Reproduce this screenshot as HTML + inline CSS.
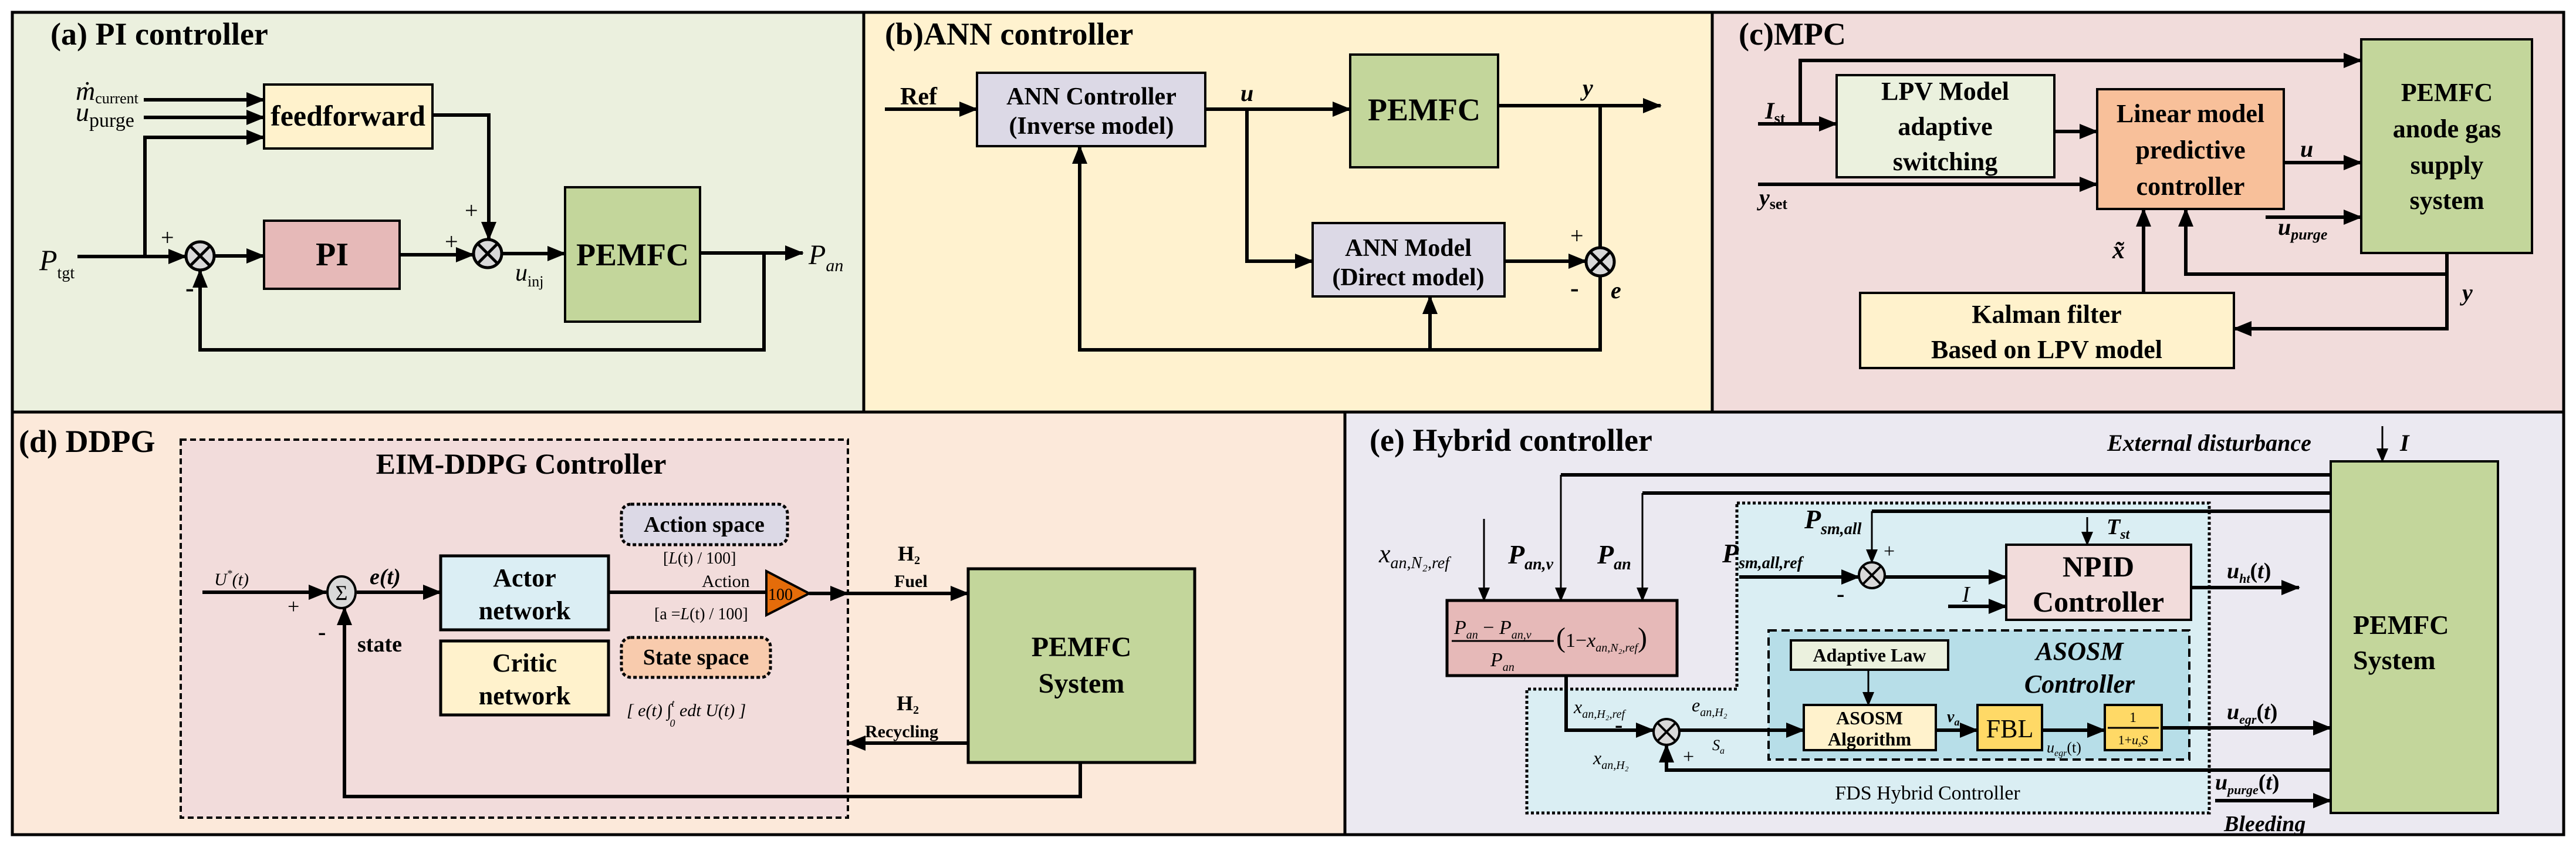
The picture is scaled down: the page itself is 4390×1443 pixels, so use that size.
<!DOCTYPE html>
<html><head><meta charset="utf-8"><style>
html,body{margin:0;padding:0;background:#fff;}
svg{display:block;}
text{font-family:"Liberation Serif",serif;fill:#000;}
.b{font-weight:bold;}
.i{font-style:italic;}
.m{text-anchor:middle;}
</style></head><body>
<svg width="4390" height="1443" viewBox="0 0 4390 1443" xmlns="http://www.w3.org/2000/svg">
<defs>
<marker id="a" markerWidth="32" markerHeight="26" refX="30" refY="13" orient="auto" markerUnits="userSpaceOnUse"><path d="M0,0 L32,13 L0,26 z" fill="#000"/></marker>
<marker id="s" markerWidth="24" markerHeight="30" refX="22" refY="10" orient="auto" markerUnits="userSpaceOnUse"><path d="M0,0 L24,10 L0,20 z" fill="#000"/></marker>
</defs>
<rect x="0" y="0" width="4390" height="1443" fill="#fff"/>
<rect x="21" y="21" width="1451" height="681" fill="#ebf0de"/>
<rect x="1472" y="21" width="1446" height="681" fill="#fff2cf"/>
<rect x="2918" y="21" width="1451" height="681" fill="#f1dcdb"/>
<rect x="21" y="702" width="2271" height="720" fill="#fce9da"/>
<rect x="2292" y="702" width="2077" height="720" fill="#ebe9f1"/>
<g stroke="#000" stroke-width="5" fill="none">
<rect x="21" y="21" width="4348" height="1401"/>
<line x1="21" y1="702" x2="4369" y2="702"/>
<line x1="1472" y1="21" x2="1472" y2="702"/>
<line x1="2918" y1="21" x2="2918" y2="702"/>
<line x1="2292" y1="702" x2="2292" y2="1422"/>
</g>

<!-- (a) -->
<text x="86" y="76" class="b" font-size="54">(a) PI controller</text>
<g stroke="#000" stroke-width="4">
<rect x="450" y="144" width="287" height="109" fill="#fff2cc"/>
<rect x="450" y="376" width="231" height="116" fill="#e6b9b8"/>
<rect x="963" y="319" width="230" height="229" fill="#c3d69b"/>
</g>
<text x="593" y="214" class="b m" font-size="50">feedforward</text>
<text x="566" y="452" class="b m" font-size="56">PI</text>
<text x="1078" y="452" class="b m" font-size="54">PEMFC</text>
<g stroke="#000" stroke-width="6" fill="none">
<path d="M132,437 H317" marker-end="url(#a)"/>
<path d="M365,436 H450" marker-end="url(#a)"/>
<path d="M681,434 H807" marker-end="url(#a)"/>
<path d="M855,432 H963" marker-end="url(#a)"/>
<path d="M737,196 H833 V408" marker-end="url(#a)"/>
<path d="M245,170 H450" marker-end="url(#a)"/>
<path d="M245,200 H450" marker-end="url(#a)"/>
<path d="M247,437 V234 H450" marker-end="url(#a)"/>
<path d="M1193,431 H1368" marker-end="url(#a)"/>
<path d="M1302,431 V596 H341 V460" marker-end="url(#a)"/>
</g>
<g stroke="#000" stroke-width="5" fill="#d9d9d9">
<circle cx="341" cy="436" r="24"/><circle cx="831" cy="432" r="24"/>
</g>
<g stroke="#000" stroke-width="5">
<path d="M324,419 L358,453 M358,419 L324,453"/>
<path d="M814,415 L848,449 M848,415 L814,449"/>
</g>
<text x="129" y="170" class="i" font-size="46">ṁ<tspan font-size="26" font-style="normal" dy="6">current</tspan></text>
<text x="129" y="206" class="i" font-size="46">u<tspan font-size="34" font-style="normal" dy="10">purge</tspan></text>
<text x="67" y="460" class="i" font-size="50">P<tspan font-size="28" font-style="normal" dy="14">tgt</tspan></text>
<text x="274" y="418" font-size="40">+</text>
<text x="316" y="505" class="b" font-size="44">-</text>
<text x="792" y="372" font-size="40">+</text>
<text x="758" y="425" font-size="40">+</text>
<text x="878" y="478" class="i" font-size="42">u<tspan font-size="26" font-style="normal" dy="10">inj</tspan></text>
<text x="1378" y="450" class="i" font-size="48">P<tspan font-size="30" dy="12">an</tspan></text>

<!-- (b) -->
<text x="1508" y="76" class="b" font-size="54">(b)ANN controller</text>
<g stroke="#000" stroke-width="4">
<rect x="1665" y="124" width="389" height="125" fill="#dcd9e6"/>
<rect x="2301" y="93" width="252" height="192" fill="#c3d69b"/>
<rect x="2237" y="380" width="327" height="125" fill="#dcd9e6"/>
</g>
<text x="1860" y="178" class="b m" font-size="42">ANN Controller</text>
<text x="1860" y="228" class="b m" font-size="42">(Inverse model)</text>
<text x="2427" y="205" class="b m" font-size="54">PEMFC</text>
<text x="2400" y="436" class="b m" font-size="42">ANN Model</text>
<text x="2400" y="486" class="b m" font-size="42">(Direct model)</text>
<g stroke="#000" stroke-width="6" fill="none">
<path d="M1508,186 H1665" marker-end="url(#a)"/>
<path d="M2054,186 H2301" marker-end="url(#a)"/>
<path d="M2125,186 V445 H2237" marker-end="url(#a)"/>
<path d="M2553,180 H2830" marker-end="url(#a)"/>
<path d="M2727,180 V422"/>
<path d="M2564,445 H2703" marker-end="url(#a)"/>
<path d="M2727,470 V596 H1840 V249" marker-end="url(#a)"/>
<path d="M2437,596 V505" marker-end="url(#a)"/>
</g>
<circle cx="2727" cy="446" r="24" fill="#d9d9d9" stroke="#000" stroke-width="5"/>
<path d="M2710,429 L2744,463 M2744,429 L2710,463" stroke="#000" stroke-width="5"/>
<text x="1534" y="178" class="b" font-size="42">Ref</text>
<text x="2114" y="172" class="i b" font-size="40">u</text>
<text x="2697" y="163" class="i b" font-size="40">y</text>
<text x="2676" y="415" font-size="40">+</text>
<text x="2676" y="505" class="b" font-size="44">-</text>
<text x="2745" y="508" class="i b" font-size="40">e</text>

<!-- (c) -->
<text x="2963" y="76" class="b" font-size="54">(c)MPC</text>
<g stroke="#000" stroke-width="4">
<rect x="3130" y="128" width="371" height="174" fill="#ebf1de"/>
<rect x="3574" y="152" width="318" height="204" fill="#f8c09a"/>
<rect x="4024" y="67" width="291" height="364" fill="#c3d69b"/>
<rect x="3170" y="499" width="637" height="128" fill="#fff2cc"/>
</g>
<g font-size="44">
<text x="3315" y="170" class="b m">LPV Model</text>
<text x="3315" y="230" class="b m">adaptive</text>
<text x="3315" y="290" class="b m">switching</text>
<text x="3733" y="208" class="b m">Linear model</text>
<text x="3733" y="270" class="b m">predictive</text>
<text x="3733" y="332" class="b m">controller</text>
<text x="4170" y="172" class="b m">PEMFC</text>
<text x="4170" y="234" class="b m">anode gas</text>
<text x="4170" y="296" class="b m">supply</text>
<text x="4170" y="356" class="b m">system</text>
<text x="3488" y="550" class="b m">Kalman filter</text>
<text x="3488" y="610" class="b m">Based on LPV model</text>
</g>
<g stroke="#000" stroke-width="6" fill="none">
<path d="M3068,211 V103 H4024" marker-end="url(#a)"/>
<path d="M2996,211 H3130" marker-end="url(#a)"/>
<path d="M3501,224 H3574" marker-end="url(#a)"/>
<path d="M2996,314 H3574" marker-end="url(#a)"/>
<path d="M3892,277 H4024" marker-end="url(#a)"/>
<path d="M3861,370 H4024" marker-end="url(#a)"/>
<path d="M4170,431 V560 H3807" marker-end="url(#a)"/>
<path d="M4170,467 H3725 V356" marker-end="url(#a)"/>
<path d="M3653,499 V356" marker-end="url(#a)"/>
</g>
<text x="3008" y="202" class="i b" font-size="40">I<tspan font-size="26" font-style="normal" dy="8">st</tspan></text>
<text x="2998" y="350" class="i b" font-size="40">y<tspan font-size="26" font-style="normal" dy="6">set</tspan></text>
<text x="3920" y="267" class="i b" font-size="40">u</text>
<text x="3882" y="400" class="i b" font-size="40">u<tspan font-size="26" dy="8">purge</tspan></text>
<text x="3600" y="440" class="i b" font-size="42">x̃</text>
<text x="4196" y="512" class="i b" font-size="40">y</text>

<!-- (d) -->
<text x="32" y="770" class="b" font-size="54">(d) DDPG</text>
<rect x="308" y="749" width="1137" height="644" fill="#f2dcdb" stroke="#000" stroke-width="4" stroke-dasharray="10,6"/>
<text x="888" y="807" class="b m" font-size="50">EIM-DDPG Controller</text>
<rect x="1059" y="859" width="283" height="69" rx="16" fill="#dcd9e6" stroke="#000" stroke-width="5" stroke-dasharray="6,4"/>
<text x="1200" y="906" class="b m" font-size="38">Action space</text>
<rect x="1059" y="1086" width="254" height="68" rx="16" fill="#f8cbad" stroke="#000" stroke-width="5" stroke-dasharray="6,4"/>
<text x="1186" y="1132" class="b m" font-size="38">State space</text>
<g stroke="#000" stroke-width="5">
<rect x="751" y="947" width="286" height="126" fill="#dbeef4"/>
<rect x="751" y="1092" width="286" height="126" fill="#fff2cc"/>
<rect x="1650" y="969" width="386" height="330" fill="#c3d69b"/>
</g>
<text x="894" y="999" class="b m" font-size="44">Actor</text>
<text x="894" y="1055" class="b m" font-size="44">network</text>
<text x="894" y="1144" class="b m" font-size="44">Critic</text>
<text x="894" y="1200" class="b m" font-size="44">network</text>
<text x="1843" y="1118" class="b m" font-size="48">PEMFC</text>
<text x="1843" y="1180" class="b m" font-size="48">System</text>
<g stroke="#000" stroke-width="6" fill="none">
<path d="M345,1009 H556" marker-end="url(#a)"/>
<path d="M608,1009 H751" marker-end="url(#a)"/>
<path d="M1037,1009 H1306"/>
<path d="M1379,1011 H1445" marker-end="url(#a)"/>
<path d="M1445,1011 H1650" marker-end="url(#a)"/>
<path d="M1650,1266 H1445" marker-end="url(#a)"/>
<path d="M1841,1299 V1357 H587 V1035" marker-end="url(#a)"/>
</g>
<polygon points="1306,973 1379,1011 1306,1048" fill="#e46c0a" stroke="#000" stroke-width="4"/>
<text x="1330" y="1022" class="m" font-size="28">100</text>
<ellipse cx="582" cy="1009" rx="24" ry="27" fill="#d9d9d9" stroke="#000" stroke-width="4"/>
<text x="582" y="1022" class="m" font-size="36">Σ</text>
<text x="365" y="997" class="i" font-size="30">U<tspan font-size="18" dy="-14">*</tspan><tspan dy="14">(t)</tspan></text>
<text x="490" y="1045" font-size="36">+</text>
<text x="542" y="1090" class="b" font-size="40">-</text>
<text x="630" y="995" class="i b" font-size="38">e(t)</text>
<text x="609" y="1110" class="b" font-size="38">state</text>
<text x="1130" y="960" font-size="28">[<tspan font-style="italic">L</tspan>(t) / 100]</text>
<text x="1196" y="1000" font-size="30">Action</text>
<text x="1115" y="1055" font-size="28">[a =<tspan font-style="italic">L</tspan>(t) / 100]</text>
<text x="1068" y="1220" class="i" font-size="30">[ e(t)   ∫<tspan font-size="18" dy="-16">t</tspan><tspan font-size="18" dy="34" dx="-8">0</tspan><tspan dy="-18"> edt U(t) ]</tspan></text>
<text x="1530" y="955" class="b" font-size="36">H<tspan font-size="20" dy="6">2</tspan></text>
<text x="1524" y="1000" class="b" font-size="30">Fuel</text>
<text x="1528" y="1210" class="b" font-size="36">H<tspan font-size="20" dy="6">2</tspan></text>
<text x="1474" y="1256" class="b" font-size="30">Recycling</text>

<!-- (e) -->
<text x="2334" y="768" class="b" font-size="54">(e) Hybrid controller</text>
<text x="3591" y="768" class="i b" font-size="40">External disturbance</text>
<text x="4090" y="768" class="i b" font-size="40">I</text>
<path d="M2960,857 H3765 V1385 H2602 V1174 H2960 Z" fill="#daeef3" stroke="#000" stroke-width="5" stroke-dasharray="5,4"/>
<rect x="3972" y="786" width="285" height="599" fill="#c3d69b" stroke="#000" stroke-width="4"/>
<text x="4010" y="1080" class="b" font-size="46">PEMFC</text>
<text x="4010" y="1140" class="b" font-size="46">System</text>
<rect x="2466" y="1023" width="392" height="128" fill="#e6b9b8" stroke="#000" stroke-width="5"/>
<rect x="3419" y="928" width="315" height="128" fill="#f2dcdb" stroke="#000" stroke-width="4"/>
<text x="3576" y="982" class="b m" font-size="50">NPID</text>
<text x="3576" y="1042" class="b m" font-size="50">Controller</text>
<rect x="3014" y="1074" width="717" height="220" fill="#b7dee8" stroke="#000" stroke-width="4" stroke-dasharray="14,8"/>
<rect x="3052" y="1091" width="268" height="50" fill="#ebf1de" stroke="#000" stroke-width="4"/>
<text x="3186" y="1127" class="b m" font-size="32">Adaptive Law</text>
<text x="3544" y="1124" class="i b m" font-size="44">ASOSM</text>
<text x="3544" y="1180" class="i b m" font-size="44">Controller</text>
<g stroke="#000" stroke-width="4">
<rect x="3074" y="1201" width="225" height="77" fill="#fff2cc"/>
<rect x="3370" y="1201" width="110" height="77" fill="#ffd966"/>
<rect x="3587" y="1201" width="97" height="77" fill="#ffd966"/>
</g>
<text x="3186" y="1234" class="b m" font-size="32">ASOSM</text>
<text x="3186" y="1270" class="b m" font-size="32">Algorithm</text>
<text x="3425" y="1256" class="m" font-size="44">FBL</text>
<text x="3635" y="1230" class="m" font-size="24">1</text>
<line x1="3592" y1="1240" x2="3679" y2="1240" stroke="#000" stroke-width="3"/>
<text x="3635" y="1268" class="m" font-size="22">1+<tspan font-style="italic">u<tspan font-size="14" dy="4">s</tspan><tspan dy="-4">S</tspan></tspan></text>
<g stroke="#000" stroke-width="6" fill="none">
<path d="M3972,809 H2660"/><path d="M3972,840 H2799"/><path d="M3972,871 H3190"/>
<path d="M2964,983 H3168" marker-end="url(#a)"/>
<path d="M3212,983 H3419" marker-end="url(#a)"/>
<path d="M3320,1033 H3419" marker-end="url(#a)"/>
<path d="M3734,1001 H3918" marker-end="url(#a)"/>
<path d="M2669,1151 V1244 H2818" marker-end="url(#a)"/>
<path d="M2862,1244 H3074" marker-end="url(#a)"/>
<path d="M3299,1244 H3370" marker-end="url(#a)"/>
<path d="M3480,1244 H3587" marker-end="url(#a)"/>
<path d="M3684,1240 H3972" marker-end="url(#a)"/>
<path d="M3972,1312 H2840 V1269" marker-end="url(#a)"/>
<path d="M3775,1364 H3972" marker-end="url(#a)"/>
</g>
<g stroke="#000" stroke-width="3" fill="none">
<path d="M4060,726 V786" marker-end="url(#s)"/>
<path d="M2660,809 V1023" marker-end="url(#s)"/>
<path d="M2799,840 V1023" marker-end="url(#s)"/>
<path d="M3190,871 V958" marker-end="url(#s)"/>
<path d="M2529,884 V1023" marker-end="url(#s)"/>
<path d="M3557,881 V928" marker-end="url(#s)"/>
<path d="M3184,1141 V1201" marker-end="url(#s)"/>
</g>
<g stroke="#000" stroke-width="4" fill="#d9d9d9">
<circle cx="3190" cy="980" r="22"/><circle cx="2840" cy="1247" r="22"/>
</g>
<path d="M3175,965 L3205,995 M3205,965 L3175,995 M2825,1232 L2855,1262 M2855,1232 L2825,1262" stroke="#000" stroke-width="4"/>
<text x="2478" y="1080" class="i" font-size="34">P<tspan font-size="20" dy="8">an</tspan><tspan dy="-8" font-style="normal"> − </tspan>P<tspan font-size="20" dy="8">an,v</tspan></text>
<line x1="2474" y1="1092" x2="2648" y2="1092" stroke="#000" stroke-width="3"/>
<text x="2540" y="1135" class="i" font-size="34">P<tspan font-size="20" dy="8">an</tspan></text>
<text x="2652" y="1102" class="i" font-size="34"><tspan font-style="normal" font-size="48">(</tspan><tspan font-style="normal">1−</tspan>x<tspan font-size="20" dy="8">an,N₂,ref</tspan><tspan font-style="normal" font-size="48" dy="-8">)</tspan></text>
<text x="2350" y="958" class="i" font-size="44">x<tspan font-size="28" dy="10">an,N₂,ref</tspan></text>
<text x="2570" y="960" class="i b" font-size="46">P<tspan font-size="28" dy="10">an,v</tspan></text>
<text x="2722" y="960" class="i b" font-size="46">P<tspan font-size="28" dy="10">an</tspan></text>
<text x="3075" y="900" class="i b" font-size="46">P<tspan font-size="28" dy="10">sm,all</tspan></text>
<text x="2935" y="958" class="i b" font-size="46">P<tspan font-size="28" dy="10">sm,all,ref</tspan></text>
<text x="3210" y="950" font-size="34">+</text>
<text x="3130" y="1025" class="b" font-size="40">-</text>
<text x="3344" y="1025" class="i" font-size="38">I</text>
<text x="3590" y="910" class="i b" font-size="38">T<tspan font-size="24" dy="8">st</tspan></text>
<text x="3795" y="985" class="i b" font-size="38">u<tspan font-size="22" dy="8">ht</tspan><tspan dy="-8" font-style="normal">(</tspan>t<tspan font-style="normal">)</tspan></text>
<text x="2682" y="1215" class="i" font-size="32">x<tspan font-size="20" dy="8">an,H₂,ref</tspan></text>
<text x="2883" y="1212" class="i" font-size="32">e<tspan font-size="20" dy="8">an,H₂</tspan></text>
<text x="2918" y="1278" class="i" font-size="26">S<tspan font-size="16" dy="6">a</tspan></text>
<text x="2715" y="1302" class="i" font-size="32">x<tspan font-size="20" dy="8">an,H₂</tspan></text>
<text x="2868" y="1300" font-size="34">+</text>
<text x="2752" y="1248" class="b" font-size="40">-</text>
<text x="3318" y="1230" class="i b" font-size="28">v<tspan font-size="18" dy="6">a</tspan></text>
<text x="3488" y="1282" class="i" font-size="26">u<tspan font-size="16" dy="6">egr</tspan><tspan dy="-6" font-style="normal">(t)</tspan></text>
<text x="3795" y="1225" class="i b" font-size="38">u<tspan font-size="22" dy="8">egr</tspan><tspan dy="-8" font-style="normal">(</tspan>t<tspan font-style="normal">)</tspan></text>
<text x="3775" y="1345" class="i b" font-size="38">u<tspan font-size="22" dy="8">purge</tspan><tspan dy="-8" font-style="normal">(</tspan>t<tspan font-style="normal">)</tspan></text>
<text x="3790" y="1416" class="i b" font-size="38">Bleeding</text>
<text x="3285" y="1362" class="m" font-size="34">FDS Hybrid Controller</text>
</svg>
</body></html>
